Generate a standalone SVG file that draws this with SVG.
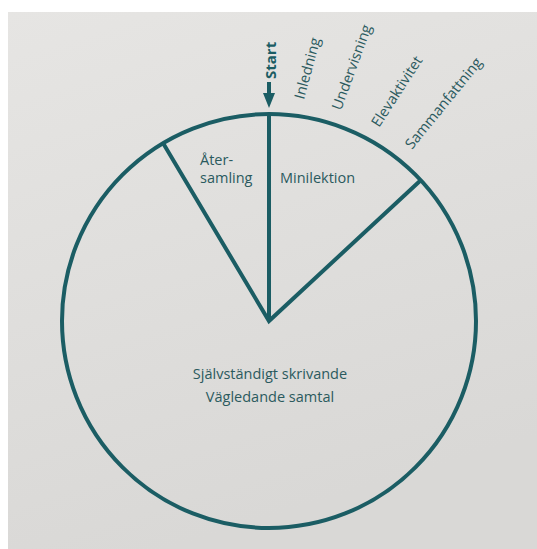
<svg xmlns="http://www.w3.org/2000/svg" width="537" height="549" viewBox="0 0 537 549">
  <defs>
    <linearGradient id="paper" x1="0" y1="0" x2="0.3" y2="1">
      <stop offset="0" stop-color="#e6e5e3"/>
      <stop offset="1" stop-color="#d9d8d6"/>
    </linearGradient>
    <marker id="arrow" viewBox="0 0 15 12" refX="0" refY="6" markerWidth="15" markerHeight="12" markerUnits="userSpaceOnUse" orient="auto">
      <path d="M0,0 L15,6 L0,12 Z" fill="#1b5d64"/>
    </marker>
    <style>
      .ln { fill: none; stroke: #1b5d64; stroke-width: 4; }
      .lbl { font-family: "Open Sans", "Noto Sans", "DejaVu Sans", sans-serif; font-size: 14.5px; fill: #2b5a5e; }
      .lbl-b { font-family: "Open Sans", "Noto Sans", "DejaVu Sans", sans-serif; font-size: 15px; font-weight: bold; fill: #1b5d64; }
    </style>
  </defs>
  <rect x="0" y="0" width="537" height="549" fill="#ffffff"/>
  <rect x="8" y="12" width="529" height="537" fill="url(#paper)"/>

  <g id="pie">
    <circle class="ln" cx="269" cy="321" r="207"/>
    <polyline class="ln" points="163,143 269,321 421,180" stroke-linejoin="miter"/>
    <line class="ln" x1="269" y1="321" x2="269" y2="114"/>
  </g>

  <g id="segment-atersamling">
    <text class="lbl" x="200" y="165">Åter-</text>
    <text class="lbl" x="200" y="183">samling</text>
  </g>
  <g id="segment-minilektion">
    <text class="lbl" x="280" y="183">Minilektion</text>
  </g>
  <g id="segment-skrivande">
    <text class="lbl" x="270" y="379" text-anchor="middle">Självständigt skrivande</text>
    <text class="lbl" x="270" y="402" text-anchor="middle">Vägledande samtal</text>
  </g>

  <g id="phase-labels">
    <text class="lbl-b" transform="translate(275.5,79) rotate(-90)">Start</text>
    <text class="lbl" transform="translate(304,100) rotate(-75)">Inledning</text>
    <text class="lbl" transform="translate(341,111) rotate(-70)">Undervisning</text>
    <text class="lbl" transform="translate(379,128) rotate(-57)">Elevaktivitet</text>
    <text class="lbl" transform="translate(412,150) rotate(-51)">Sammanfattning</text>
  </g>

  <g id="connectors">
    <line class="ln" x1="269" y1="82" x2="269" y2="93" stroke-width="3" marker-end="url(#arrow)"/>
  </g>
</svg>
